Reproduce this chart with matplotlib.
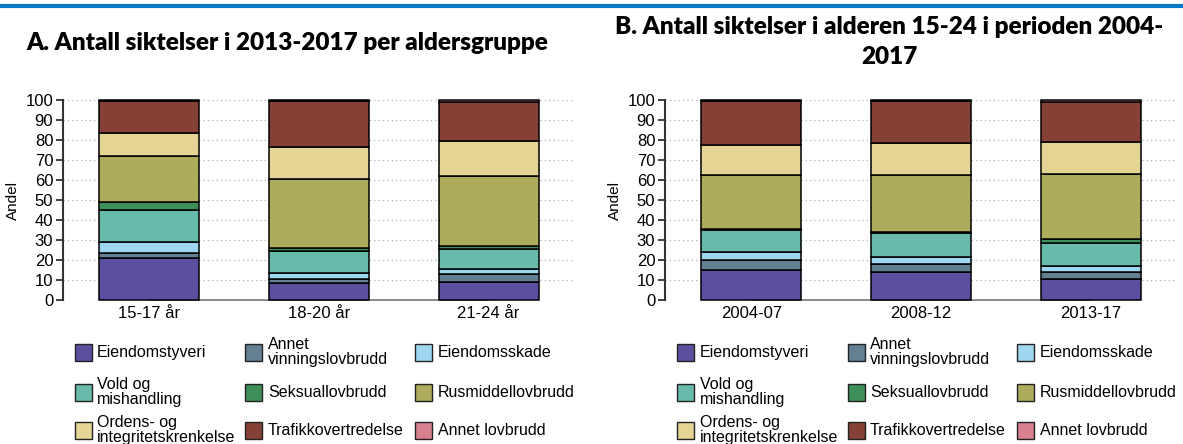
import numpy as np
import matplotlib.pyplot as plt
from matplotlib.patches import Rectangle
from matplotlib.lines import Line2D

plt.rcParams['font.family'] = ['Liberation Sans', 'DejaVu Sans']

# categories (stack order, bottom to top)
kategorier = ['Eiendomstyveri', 'Annet\nvinningslovbrudd', 'Eiendomsskade',
              'Vold og\nmishandling', 'Seksuallovbrudd', 'Rusmiddellovbrudd',
              'Ordens- og\nintegritetskrenkelse', 'Trafikkovertredelse', 'Annet lovbrudd']
farger = ['#5b4fa0', '#637f92', '#9fd6f0', '#68bbab', '#3e8f5a',
          '#adac5c', '#e5d594', '#854136', '#d7808f']

# panel A: 2013-2017 per aldersgruppe (andel, %)
grupper_a = ['15-17 år', '18-20 år', '21-24 år']
eiendomstyveri_a = [21.0, 8.3, 9.0]
annet_vinning_a = [2.7, 2.4, 4.0]
eiendomsskade_a = [5.5, 3.0, 2.3]
vold_a = [16.0, 10.6, 10.2]
seksual_a = [3.8, 1.9, 1.7]
rusmiddel_a = [22.8, 34.1, 34.6]
ordens_a = [11.5, 16.4, 17.7]
trafikk_a = [16.2, 22.8, 19.5]
annet_a = [0.5, 0.5, 1.0]

# panel B: alder 15-24, perioder
perioder_b = ['2004-07', '2008-12', '2013-17']
eiendomstyveri_b = [15.0, 14.2, 10.5]
annet_vinning_b = [4.8, 4.0, 3.3]
eiendomsskade_b = [4.2, 3.5, 3.4]
vold_b = [10.8, 11.6, 11.3]
seksual_b = [0.9, 0.9, 2.0]
rusmiddel_b = [26.8, 28.5, 32.3]
ordens_b = [15.2, 15.6, 16.4]
trafikk_b = [21.8, 21.2, 20.0]
annet_b = [0.5, 0.5, 0.8]

serier_a = [eiendomstyveri_a, annet_vinning_a, eiendomsskade_a, vold_a, seksual_a,
            rusmiddel_a, ordens_a, trafikk_a, annet_a]
serier_b = [eiendomstyveri_b, annet_vinning_b, eiendomsskade_b, vold_b, seksual_b,
            rusmiddel_b, ordens_b, trafikk_b, annet_b]

W, H = 1183, 444
fig = plt.figure(figsize=(W / 100, H / 100), dpi=100)

# blue rule across the top
fig.add_artist(Line2D([0, 1], [1 - 6 / H, 1 - 6 / H], color='#0a78c2', lw=3))


def panel(x0, x1, grupper, serier):
    ax = fig.add_axes([x0 / W, 1 - 300 / H, (x1 - x0) / W, 200 / H])
    x = np.arange(len(grupper))
    bunn = np.zeros(len(grupper))
    for verdier, farge in zip(serier, farger):
        ax.bar(x, verdier, bottom=bunn, width=0.59, color=farge,
               edgecolor='black', linewidth=1.1, zorder=3, clip_on=False)
        bunn += np.array(verdier)
    ax.set_xlim(-0.51, len(grupper) - 0.49)
    ax.set_ylim(0, 100)
    ax.set_yticks(range(0, 101, 10))
    ax.set_xticks(x)
    ax.set_xticklabels(grupper, fontsize=12)
    ax.tick_params(axis='x', length=0, pad=4)
    ax.tick_params(axis='y', labelsize=12, length=5, width=1.3, color='#333333', pad=2)
    ax.grid(axis='y', linestyle=(0, (1, 2.5)), color='#b0b0b0', linewidth=0.9, zorder=0)
    for s in ['top', 'right', 'bottom']:
        ax.spines[s].set_visible(False)
    ax.spines['left'].set_color('#333333')
    ax.spines['left'].set_linewidth(1.5)
    ax.hlines(0, 0, len(grupper) - 1, color='#777777', lw=1.2, zorder=2, clip_on=False)
    ax.set_ylabel('Andel', fontsize=11, labelpad=4)
    return ax


def legende(x_firkant, x_tekst):
    rader = [352, 392, 430]
    for i, (navn, farge) in enumerate(zip(kategorier, farger)):
        r, k = divmod(i, 3)
        y = rader[r]
        fig.add_artist(Rectangle((x_firkant[k] / W, 1 - (y + 8.5) / H), 17 / W, 17 / H,
                                 facecolor=farge, edgecolor='#222222', lw=1.0))
        fig.text(x_tekst[k] / W, 1 - y / H, navn, fontsize=11.5, va='center',
                 ha='left', linespacing=0.95)


panel(63, 575, grupper_a, serier_a)
panel(665, 1177, perioder_b, serier_b)

legende([75, 245, 415], [97, 268, 438])
legende([677, 848, 1017], [700, 870, 1040])

fig.text(287 / W, 1 - 43 / H, 'A. Antall siktelser i 2013-2017 per aldersgruppe',
         family=['Lato', 'DejaVu Sans'], fontweight='heavy', fontsize=17.5,
         ha='center', va='center')
fig.text(889 / W, 1 - 42 / H, 'B. Antall siktelser i alderen 15-24 i perioden 2004-\n2017',
         family=['Lato', 'DejaVu Sans'], fontweight='heavy', fontsize=17.5,
         ha='center', va='center', linespacing=1.45)

fig.savefig('out.png', dpi=100)
